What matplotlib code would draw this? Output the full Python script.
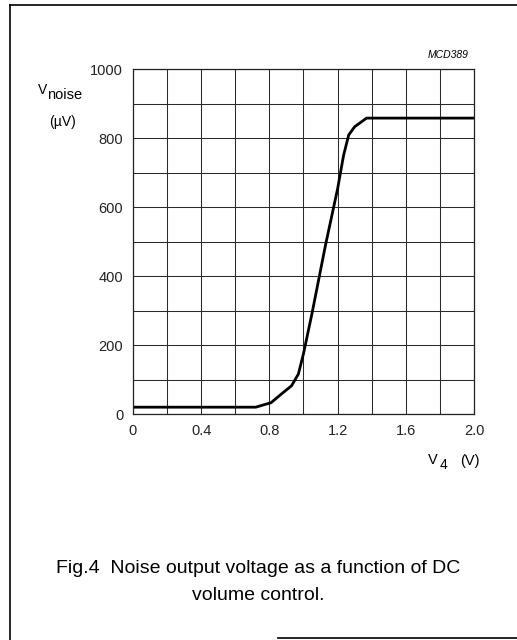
import numpy as np
import matplotlib.pyplot as plt
from matplotlib.lines import Line2D

plt.rcParams['font.family'] = ['Liberation Sans', 'DejaVu Sans']

# curve
v4 = [0.0, 0.72, 0.81, 0.87, 0.93, 0.97, 1.0, 1.05, 1.13, 1.20, 1.235, 1.265, 1.30, 1.37, 2.0]
vnoise = [20, 20, 33, 58, 82, 116, 175, 292, 492, 653, 750, 809, 833, 858, 858]

x_ticks = [0, 0.4, 0.8, 1.2, 1.6, 2.0]
x_tick_labels = ["0", "0.4", "0.8", "1.2", "1.6", "2.0"]
y_ticks = [0, 200, 400, 600, 800, 1000]

fig = plt.figure(figsize=(5.17, 6.4), dpi=100)
ax = fig.add_axes([0.257, 0.353, 0.660, 0.539])

ax.plot(v4, vnoise, color="black", linewidth=2.0, solid_joinstyle="round")

ax.set_xlim(0, 2.0)
ax.set_ylim(0, 1000)
ax.set_xticks(x_ticks)
ax.set_xticklabels(x_tick_labels)
ax.set_yticks(y_ticks)
ax.set_xticks(np.arange(0, 2.01, 0.2), minor=True)
ax.set_yticks(np.arange(0, 1001, 100), minor=True)
ax.grid(True, which="both", color="#2a2a2a", linewidth=0.75)
ax.tick_params(which="both", length=0, labelsize=10.5, colors="#222222", pad=7)
for s in ax.spines.values():
    s.set_linewidth(0.9)
    s.set_color("#222222")

# axis labels placed like the datasheet
fig.text(38 / 517, 1 - 94 / 640, "V", fontsize=10, ha="left", va="baseline")
fig.text(47 / 517, 1 - 99 / 640, "noise", fontsize=10.5, ha="left", va="baseline")
fig.text(63 / 517, 1 - 126 / 640, "(\u00b5V)", fontsize=10, ha="center", va="baseline")
fig.text(428 / 517, 1 - 464 / 640, "V", fontsize=10.5, ha="left", va="baseline")
fig.text(440 / 517, 1 - 469 / 640, "4", fontsize=10, ha="left", va="baseline")
fig.text(470 / 517, 1 - 465 / 640, "(V)", fontsize=10.5, ha="center", va="baseline")
fig.text(448 / 517, 1 - 58 / 640, "MCD389", fontsize=7.5, style="italic", ha="center", va="baseline")

fig.text(258 / 517, 1 - 573 / 640, "Fig.4  Noise output voltage as a function of DC",
         fontsize=14, ha="center", va="baseline")
fig.text(258 / 517, 1 - 600 / 640, "volume control.", fontsize=14, ha="center", va="baseline")

# frame lines of the page
fig.add_artist(Line2D([10 / 517, 10 / 517], [0, 1 - 5 / 640], color="black", linewidth=1.2))
fig.add_artist(Line2D([10 / 517, 1], [1 - 5 / 640, 1 - 5 / 640], color="black", linewidth=1.2))
fig.add_artist(Line2D([278 / 517, 1], [1 - 638 / 640, 1 - 638 / 640], color="black", linewidth=1.2))

fig.savefig("out.png", dpi=100)
